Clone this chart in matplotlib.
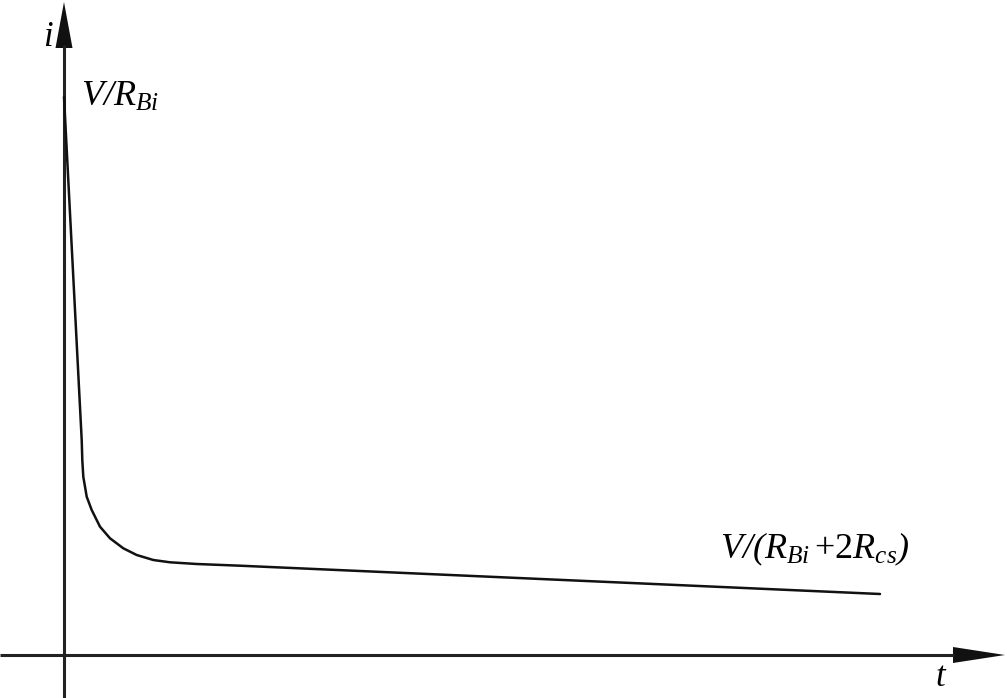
import numpy as np
import matplotlib.pyplot as plt

plt.rcParams['mathtext.fontset'] = 'custom'
plt.rcParams['mathtext.rm'] = 'Liberation Serif'
plt.rcParams['mathtext.it'] = 'Liberation Serif:italic'
plt.rcParams['font.family'] = 'Liberation Serif'

# current decay curve (t, i)
t_vals = [0.0, 0.177, 0.183, 0.193, 0.227, 0.277, 0.36, 0.46, 0.593, 0.727,
          0.893, 1.06, 1.327, 1.76, 8.16]
i_vals = [5.58, 2.15, 1.95, 1.783, 1.583, 1.45, 1.283, 1.167, 1.067, 1.0,
          0.95, 0.927, 0.91, 0.893, 0.61]

label_start = r'V/R$_{\mathit{Bi}}$'
label_end = r'V/(R$_{\mathit{Bi}}\,\mathrm{+2}$R$_{\mathit{cs}}$)'

fig = plt.figure(figsize=(10.07, 6.98), dpi=100)
ax = fig.add_axes([0, 0, 1, 1])
ax.set_xlim(-0.64, 9.43)
ax.set_ylim(-0.43, 6.55)
ax.axis('off')

# axes with arrow heads
ax.plot([-0.64, 8.9], [0, 0], color='#222222', lw=2.2, solid_capstyle='butt')
ax.plot([0, 0], [-0.43, 6.1], color='#222222', lw=2.2, solid_capstyle='butt')
ax.fill([8.89, 9.41, 8.89], [0.08, 0.0, -0.08], color='#111111', lw=0)
ax.fill([-0.085, 0.0, 0.085], [6.07, 6.53, 6.07], color='#111111', lw=0)

ax.plot(t_vals, i_vals, color='#111111', lw=1.8,
        solid_joinstyle='round', solid_capstyle='round')

ax.text(-0.16, 6.17, 'i', fontsize=25, style='italic', ha='center', va='center')
ax.text(8.76, -0.22, 't', fontsize=25, style='italic', ha='center', va='center')
ax.text(0.17, 5.49, label_start, fontsize=26, style='italic',
        ha='left', va='baseline')
ax.text(6.56, 0.97, label_end, fontsize=26, style='italic',
        ha='left', va='baseline')

fig.savefig('out.png', dpi=100)
